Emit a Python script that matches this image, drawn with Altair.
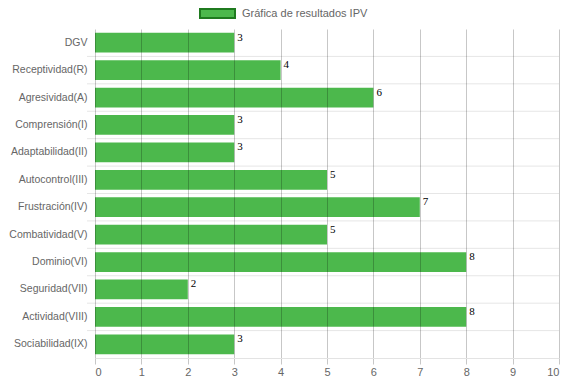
import altair as alt
import pandas as pd

categories = [
    "DGV", "Receptividad(R)", "Agresividad(A)", "Comprensión(I)",
    "Adaptabilidad(II)", "Autocontrol(III)", "Frustración(IV)",
    "Combatividad(V)", "Dominio(VI)", "Seguridad(VII)",
    "Actividad(VIII)", "Sociabilidad(IX)",
]
values = [3, 4, 6, 3, 3, 5, 7, 5, 8, 2, 8, 3]
series_name = "Gráfica de resultados IPV"
x_ticks = list(range(0, 11))

df = pd.DataFrame({"categoria": categories, "valor": values})
grid_df = pd.DataFrame({"categoria": categories[1:]})
legend_df = pd.DataFrame({"serie": [series_name]})

W, H = 464, 329
FONT = "Liberation Sans"

y_scale = alt.Scale(domain=categories, paddingInner=0, paddingOuter=0)

y_enc = alt.Y(
    "categoria:N", sort=categories, scale=y_scale,
    axis=alt.Axis(title=None, ticks=False, domain=False, grid=False,
                  labelColor="#666666", labelFont=FONT, labelFontSize=10.5,
                  labelPadding=8, labelLimit=200),
)
x_enc = alt.X(
    "valor:Q", scale=alt.Scale(domain=[0, 10], nice=False),
    axis=alt.Axis(values=x_ticks, title=None, grid=True,
                  gridColor="rgba(0,0,0,0.22)", tickColor="rgba(0,0,0,0.22)",
                  tickSize=6, domainColor="#e3e3e3", labelColor="#666666",
                  labelFont=FONT, labelFontSize=11, labelPadding=2,
                  format="d", zindex=1),
)

bars = alt.Chart(df).mark_bar(
    color="#4cb84c", height=alt.RelativeBandSize(0.72)
).encode(x=x_enc, y=y_enc)

labels = alt.Chart(df).mark_text(
    align="left", baseline="middle", dx=3, dy=-5,
    font="Liberation Serif", fontSize=11, color="#000000",
).encode(x="valor:Q", y=alt.Y("categoria:N", sort=categories, scale=y_scale), text="valor:Q")

hgrid = alt.Chart(grid_df).mark_rule(color="#e6e6e6", strokeWidth=1).encode(
    y=alt.Y("categoria:N", sort=categories, scale=y_scale, bandPosition=0),
    x=alt.value(-8), x2=alt.value(W),
)

leg_box = alt.Chart(legend_df).mark_rect(
    fill="#4cb84c", stroke="#1f7a1f", strokeWidth=2
).encode(x=alt.value(105), x2=alt.value(140), y=alt.value(-20), y2=alt.value(-11))

leg_text = alt.Chart(legend_df).mark_text(
    align="left", baseline="middle", font=FONT, fontSize=11, color="#666666"
).encode(x=alt.value(147), y=alt.value(-15), text="serie:N")

chart = alt.layer(hgrid, bars, labels, leg_box, leg_text).properties(
    width=W, height=H,
    autosize=alt.AutoSizeParams(type="none"),
    padding={"left": 87, "top": 21, "right": 7, "bottom": 18},
).configure_view(stroke=None)

chart.save("out.html", embed_options={"renderer": "svg", "actions": False})
